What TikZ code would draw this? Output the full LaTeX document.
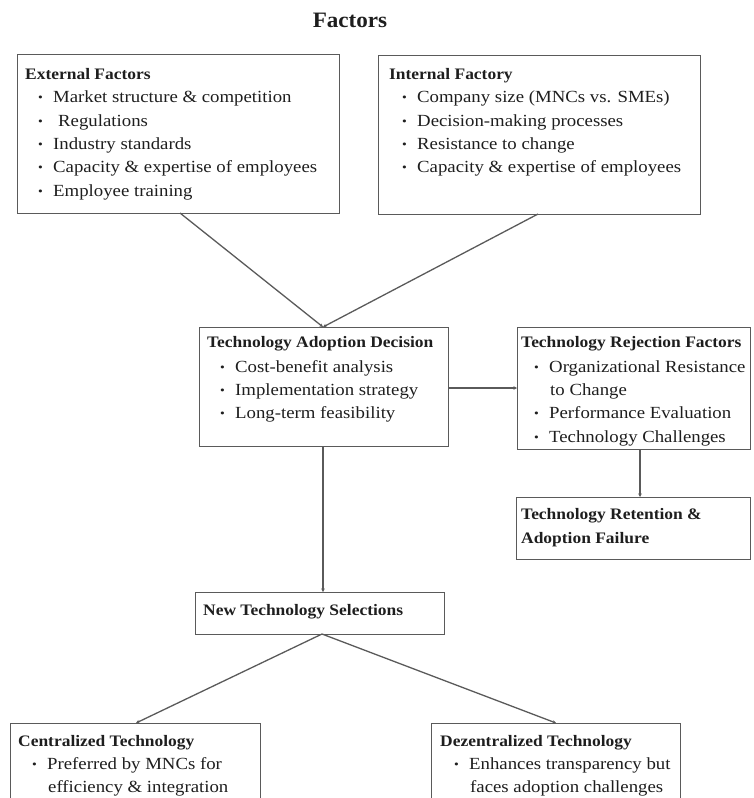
\documentclass[tikz,border=0pt]{standalone}
\usepackage{fontspec}
\setmainfont{Liberation Serif}
\newfontfamily\regf{Liberation Serif}[FakeStretch=1.105]
\newfontfamily\bldf{Liberation Serif}[FakeStretch=1.09]
\newfontfamily\ttlf{Liberation Serif}[FakeStretch=1.05]
\usetikzlibrary{arrows.meta}
\definecolor{ln}{HTML}{5A5A5A}
\definecolor{tx}{HTML}{1E1E1E}
\newcommand{\bul}{\makebox[15pt][l]{\raisebox{0.6pt}{\scalebox{0.72}{•}}}}
\begin{document}
\begin{tikzpicture}[x=1pt,y=-1pt,
  box/.style={draw=ln,line width=1.3pt,inner sep=0pt,anchor=north west},
  it/.style={anchor=west,inner sep=0pt,text=tx,text height=12pt,text depth=4pt,font=\fontsize{17}{20}\regf},
  hd/.style={anchor=west,inner sep=0pt,text=tx,text height=12pt,text depth=4pt,font=\fontsize{16}{20}\bldf\bfseries},
  con/.style={draw=ln,line width=1.3pt,-{Stealth[length=3.5pt,width=3.5pt]}}]
\useasboundingbox (0,0) rectangle (753,798);
\node[text=tx,font=\fontsize{22}{24}\ttlf\bfseries] (title) at (350,20) {Factors};
% boxes
\node[box,minimum width=322pt,minimum height=159pt] (ext) at (17,54) {};
\node[box,minimum width=322pt,minimum height=159pt] (int) at (378,55) {};
\node[box,minimum width=249pt,minimum height=119pt] (dec) at (199,327) {};
\node[box,minimum width=233pt,minimum height=122pt] (rej) at (517,327) {};
\node[box,minimum width=234pt,minimum height=62pt] (ret) at (516,497) {};
\node[box,minimum width=249pt,minimum height=42pt] (sel) at (195,592) {};
\node[box,minimum width=250pt,minimum height=90pt] (cen) at (10,723) {};
\node[box,minimum width=249pt,minimum height=90pt] (dez) at (431,723) {};
% External
\node[hd] (ex0) at (25,75) {External Factors};
\node[it] (ex1) at (38,98) {\bul Market structure \& competition};
\node[it] (ex2) at (38,122) {\bul\hspace*{5pt}Regulations};
\node[it] (ex3) at (38,145) {\bul Industry standards};
\node[it] (ex4) at (38,168) {\bul Capacity \& expertise of employees};
\node[it] (ex5) at (38,192) {\bul Employee training};
% Internal
\node[hd] (in0) at (389,75) {Internal Factory};
\node[it] (in1) at (402,98) {\bul Company size (MNCs vs. SMEs)};
\node[it] (in2) at (402,122) {\bul Decision-making processes};
\node[it] (in3) at (402,145) {\bul Resistance to change};
\node[it] (in4) at (402,168) {\bul Capacity \& expertise of employees};
% Decision
\node[hd] (de0) at (207,343) {Technology Adoption Decision};
\node[it] (de1) at (220,368) {\bul Cost-benefit analysis};
\node[it] (de2) at (220,391) {\bul Implementation strategy};
\node[it] (de3) at (220,414) {\bul Long-term feasibility};
% Rejection
\node[hd] (re0) at (521,343) {Technology Rejection Factors};
\node[it] (re1) at (534,368) {\bul Organizational Resistance};
\node[it] (re2) at (550,391) {to Change};
\node[it] (re3) at (534,414) {\bul Performance Evaluation};
\node[it] (re4) at (534,438) {\bul Technology Challenges};
% Retention
\node[hd] (rt0) at (521,515) {Technology Retention \&};
\node[hd] (rt1) at (521,539) {Adoption Failure};
% Selection
\node[hd] (se0) at (203,611) {New Technology Selections};
% Centralized
\node[hd] (ce0) at (18,742) {Centralized Technology};
\node[it] (ce1) at (32,765) {\bul Preferred by MNCs for};
\node[it] (ce2) at (48,788) {efficiency \& integration};
% Dezentralized
\node[hd] (dz0) at (440,742) {Dezentralized Technology};
\node[it] (dz1) at (454,765) {\bul Enhances transparency but};
\node[it] (dz2) at (470,788) {faces adoption challenges};
% connectors
\coordinate (e1) at (180,213);
\coordinate (i1) at (538,214);
\coordinate (d1) at (323,327);
\draw[con] (e1) -- (d1);
\draw[con] (i1) -- (d1);
\draw[con] (dec.east |- 0,388) -- (rej.west |- 0,388);
\draw[con] (rej.south -| 640,0) -- (ret.north -| 640,0);
\draw[con] (dec.south -| 323,0) -- (sel.north -| 323,0);
\coordinate (s1) at (322,634);
\coordinate (c1) at (136,723);
\coordinate (z1) at (556,723);
\draw[con] (s1) -- (c1);
\draw[con] (s1) -- (z1);
\end{tikzpicture}
\end{document}
